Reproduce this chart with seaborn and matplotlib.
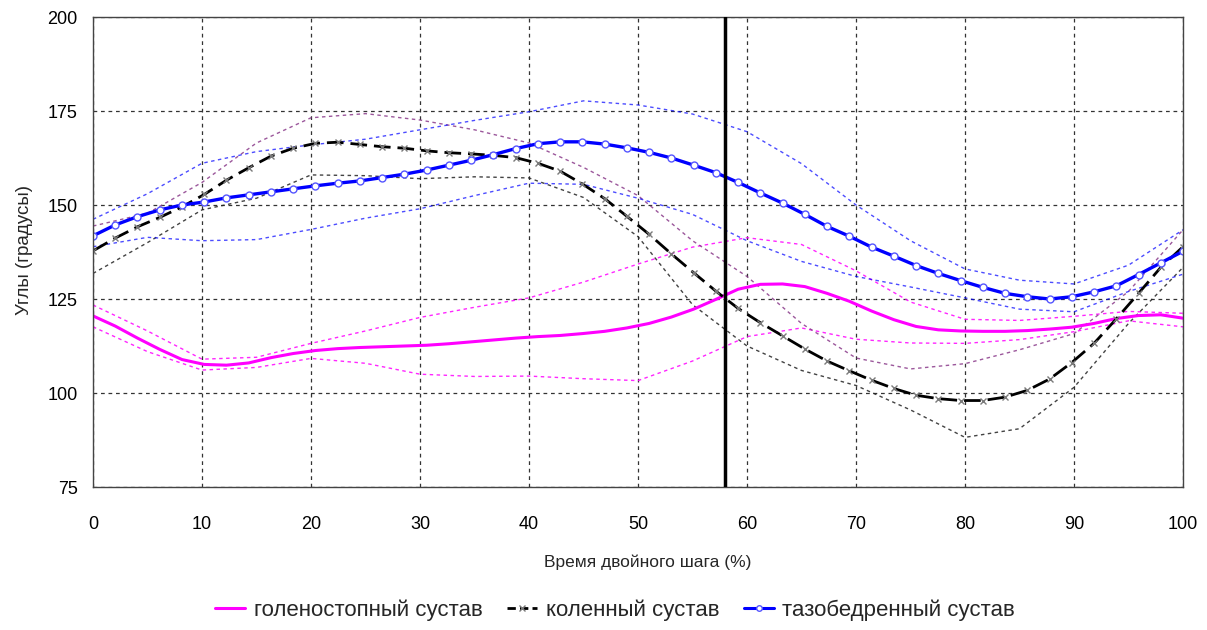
import numpy as np
import pandas as pd
import matplotlib
matplotlib.use("Agg")
import matplotlib.pyplot as plt
import seaborn as sns
from matplotlib.lines import Line2D

# ---------------- data ----------------
# mean curves sampled at 50 equally spaced points of the gait cycle (0..100 %)
x_mean = np.linspace(0, 100, 50)

ankle_mean = [120.5, 117.8, 114.6, 111.6, 108.9, 107.6, 107.4, 108.0, 109.4, 110.5,
              111.3, 111.8, 112.1, 112.3, 112.5, 112.7, 113.1, 113.6, 114.1, 114.6,
              115.0, 115.3, 115.8, 116.4, 117.3, 118.5, 120.2, 122.3, 124.9, 127.6,
              128.9, 129.0, 128.3, 126.5, 124.4, 121.8, 119.5, 117.7, 116.8, 116.5,
              116.4, 116.4, 116.6, 117.0, 117.5, 118.5, 119.8, 120.6, 120.8, 119.9]

knee_mean = [137.8, 141.2, 144.2, 146.7, 149.5, 152.8, 156.6, 159.9, 163.0, 165.1,
             166.4, 166.7, 166.1, 165.5, 165.1, 164.4, 163.9, 163.6, 163.2, 162.6,
             161.1, 159.0, 155.6, 151.7, 147.0, 142.2, 137.0, 132.0, 127.1, 122.5,
             118.7, 115.2, 111.7, 108.5, 105.9, 103.4, 101.2, 99.4, 98.5, 98.0,
             98.0, 98.9, 100.7, 103.7, 108.1, 113.2, 119.7, 126.5, 133.4, 138.9]

hip_mean = [141.8, 144.7, 146.9, 148.7, 150.0, 150.8, 151.9, 152.7, 153.5, 154.3,
            155.1, 155.8, 156.4, 157.3, 158.2, 159.3, 160.6, 161.9, 163.4, 165.0,
            166.3, 166.8, 166.8, 166.2, 165.2, 164.0, 162.5, 160.6, 158.6, 156.0,
            153.2, 150.5, 147.5, 144.3, 141.7, 138.8, 136.4, 133.9, 131.8, 129.9,
            128.1, 126.5, 125.6, 125.0, 125.6, 126.9, 128.5, 131.5, 134.6, 137.7]

# +/- SD curves, read every 5 %
x_sd = [0, 5, 10, 15, 20, 25, 30, 35, 40, 45, 50, 55, 60, 65, 70, 75, 80, 85, 90, 95, 100]

ankle_upper = [123.4, 116.5, 109.0, 109.5, 113.2, 116.5, 120.1, 122.8, 125.3, 129.5, 134.3,
               138.8, 141.3, 139.5, 132.5, 124.2, 119.6, 119.3, 120.4, 121.7, 121.2]
ankle_lower = [117.6, 111.0, 106.1, 106.8, 109.2, 107.9, 105.0, 104.4, 104.5, 103.8, 103.3,
               108.5, 115.0, 117.3, 114.3, 113.3, 113.2, 114.2, 116.3, 119.2, 117.6]

knee_upper = [144.4, 147.8, 156.0, 166.5, 173.2, 174.3, 172.6, 170.0, 166.5, 160.0, 152.5,
              140.5, 131.0, 118.5, 109.3, 106.4, 107.8, 111.5, 115.8, 127.0, 143.4]
knee_lower = [131.8, 140.0, 148.7, 151.8, 158.0, 157.8, 157.0, 157.5, 157.2, 152.0, 141.6,
              123.5, 112.5, 106.0, 102.0, 95.5, 88.2, 90.5, 101.5, 118.5, 133.4]

hip_upper = [146.2, 153.0, 161.1, 164.2, 166.0, 167.5, 170.0, 172.5, 174.8, 177.7, 176.6,
             174.2, 169.5, 161.0, 150.0, 140.5, 133.0, 130.0, 129.0, 134.0, 143.4]
hip_lower = [138.9, 141.4, 140.5, 140.8, 143.5, 146.5, 149.0, 152.5, 155.8, 155.5, 151.8,
             147.5, 140.5, 135.0, 131.0, 128.2, 125.3, 122.3, 121.6, 127.0, 131.6]

event_x = 58  # vertical line (end of stance)

labels = ["голеностопный сустав", "коленный сустав", "тазобедренный сустав"]
x_label = "Время двойного шага (%)"
y_label = "Углы (градусы)"
x_ticks = [0, 10, 20, 30, 40, 50, 60, 70, 80, 90, 100]
y_ticks = [75, 100, 125, 150, 175, 200]

# ---------------- styling ----------------
sns.set_theme(style="white")
plt.rcParams["font.family"] = ["Liberation Sans", "DejaVu Sans"]

fig = plt.figure(figsize=(12.07, 6.30), dpi=100)
ax = fig.add_axes([93 / 1207, 1 - 487 / 630, (1183 - 93) / 1207, (487 - 17) / 630])

MAG = "#FF00FF"
BLUE = "#0000FF"

# SD curves (dotted)
sd_style = dict(linewidth=1.0, linestyle=(0, (2.5, 2.5)))
sns.lineplot(x=x_sd, y=ankle_upper, ax=ax, color=MAG, alpha=0.85, **sd_style)
sns.lineplot(x=x_sd, y=ankle_lower, ax=ax, color=MAG, alpha=0.85, **sd_style)
sns.lineplot(x=x_sd, y=knee_upper, ax=ax, color="#8a3a8a", alpha=0.85, **sd_style)
sns.lineplot(x=x_sd, y=knee_lower, ax=ax, color="#222222", alpha=0.85, **sd_style)
sns.lineplot(x=x_sd, y=hip_upper, ax=ax, color=BLUE, alpha=0.7, **sd_style)
sns.lineplot(x=x_sd, y=hip_lower, ax=ax, color=BLUE, alpha=0.7, **sd_style)

# mean curves
sns.lineplot(x=x_mean, y=ankle_mean, ax=ax, color=MAG, linewidth=2.2)
sns.lineplot(x=x_mean, y=knee_mean, ax=ax, color="black", linewidth=2.0,
             linestyle=(0, (6, 2.5)), marker="x", markersize=5,
             markeredgecolor="#7a7a7a", markeredgewidth=1.0)
sns.lineplot(x=x_mean, y=hip_mean, ax=ax, color=BLUE, linewidth=2.4,
             marker="o", markersize=5, markerfacecolor="white",
             markeredgecolor="#5555ff", markeredgewidth=1.0)

ax.axvline(event_x, color="black", linewidth=2.5, zorder=5)

# axes
ax.set_xlim(0, 100)
ax.set_ylim(75, 200)
ax.set_xticks(x_ticks)
ax.set_yticks(y_ticks)
ax.tick_params(axis="both", which="both", direction="out", length=5, width=1,
               color="#444444", labelsize=13, labelcolor="black")
ax.tick_params(axis="x", pad=16)
ax.tick_params(axis="y", pad=6)
ax.grid(True, color="#333333", linestyle=(0, (3, 3)), linewidth=0.9)
ax.set_axisbelow(True)
for s in ax.spines.values():
    s.set_color("#444444")
    s.set_linewidth(1.0)
ax.set_xlabel("")
ax.set_ylabel("")

fig.text(0.537, 1 - 562 / 630, x_label, ha="center", va="center", fontsize=12.5)
fig.text(0.020, 1 - 250 / 630, y_label, ha="center", va="center", rotation=90, fontsize=13.5)

handles = [
    Line2D([], [], color=MAG, linewidth=2.2),
    Line2D([], [], color="black", linewidth=2.0, linestyle=(0, (3, 1.5)), marker="x",
           markersize=4, markeredgecolor="#7a7a7a", markevery=[1]),
    Line2D([], [], color=BLUE, linewidth=2.2, marker="o", markersize=4,
           markerfacecolor="white", markeredgecolor="#5555ff", markevery=[1]),
]
for h in handles[1:]:
    h.set_xdata([0, 0.5, 1])
fig.legend(handles, labels, loc="center", bbox_to_anchor=(0.5095, 1 - 610 / 630), ncol=3,
           frameon=False, fontsize=16, handlelength=1.35, handletextpad=0.4,
           columnspacing=1.1)

fig.savefig("out.png", dpi=100)
